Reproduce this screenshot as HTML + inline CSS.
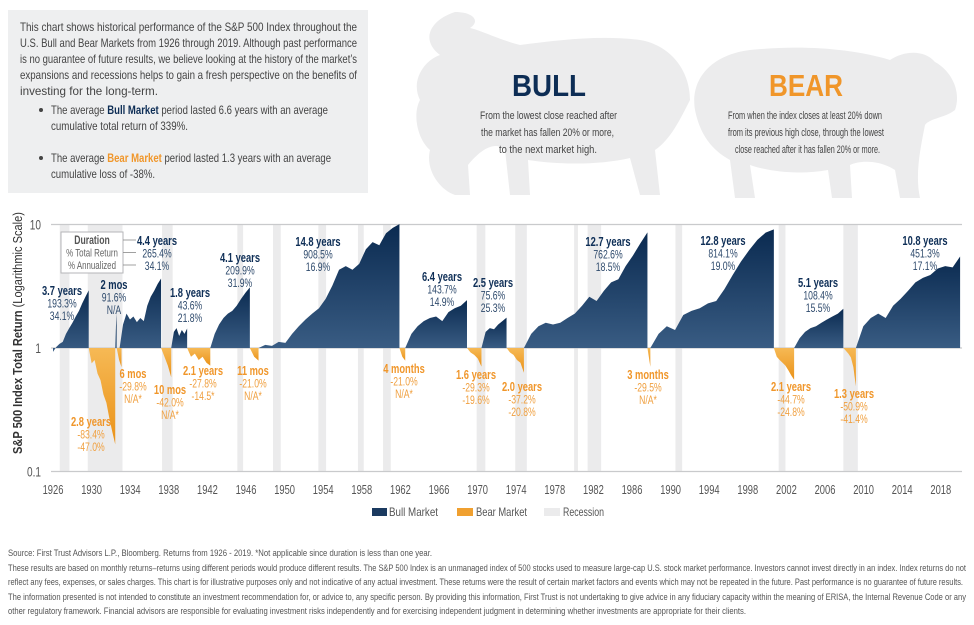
<!DOCTYPE html>
<html><head><meta charset="utf-8">
<style>
html,body{margin:0;padding:0;background:#fff;}
svg{display:block;}
text{font-family:"Liberation Sans Narrow","Liberation Sans",sans-serif;}
</style></head>
<body>
<svg id="root" width="974" height="625" viewBox="0 0 974 625" xmlns="http://www.w3.org/2000/svg">
<defs>
<linearGradient id="bullGrad" x1="0" y1="0" x2="0" y2="1"><stop offset="0" stop-color="#0a2a50"/><stop offset="1" stop-color="#395c83"/></linearGradient>
<linearGradient id="bearGrad" x1="0" y1="0" x2="0" y2="1"><stop offset="0" stop-color="#f6b955"/><stop offset="1" stop-color="#ea9218"/></linearGradient>
</defs>

<g>
<rect x="8" y="10" width="360" height="183" fill="#eeeff0"/>
<g font-size="12" fill="#444">
<text x="20" y="31" textLength="337" lengthAdjust="spacingAndGlyphs">This chart shows historical performance of the S&amp;P 500 Index throughout the</text>
<text x="20" y="47" textLength="337" lengthAdjust="spacingAndGlyphs">U.S. Bull and Bear Markets from 1926 through 2019. Although past performance</text>
<text x="20" y="63" textLength="337" lengthAdjust="spacingAndGlyphs">is no guarantee of future results, we believe looking at the history of the market’s</text>
<text x="20" y="79" textLength="337" lengthAdjust="spacingAndGlyphs">expansions and recessions helps to gain a fresh perspective on the benefits of</text>
<text x="20" y="95" textLength="138" lengthAdjust="spacingAndGlyphs">investing for the long-term.</text>
<circle cx="41" cy="110" r="2" fill="#444"/>
<text x="51" y="114" textLength="277" lengthAdjust="spacingAndGlyphs">The average <tspan font-weight="bold" fill="#0d2d55">Bull Market</tspan> period lasted 6.6 years with an average</text>
<text x="51" y="130" textLength="137" lengthAdjust="spacingAndGlyphs">cumulative total return of 339%.</text>
<circle cx="41" cy="158" r="2" fill="#444"/>
<text x="51" y="162" textLength="280" lengthAdjust="spacingAndGlyphs">The average <tspan font-weight="bold" fill="#f0962a">Bear Market</tspan> period lasted 1.3 years with an average</text>
<text x="51" y="178" textLength="104" lengthAdjust="spacingAndGlyphs">cumulative loss of -38%.</text>
</g>
</g>

<g fill="#ececed">
<path d="M455 12 C430 20 420 40 440 55 C425 60 410 80 420 100 C412 115 418 140 430 150 C425 170 440 190 455 195 L470 195 L468 165 C480 150 495 140 505 150 L510 195 L530 195 L528 160 C560 165 600 165 630 158 L640 195 L660 195 L655 150 C670 140 680 120 690 100 C690 70 670 45 640 40 C600 35 560 40 520 45 C500 40 480 30 470 28 C480 22 475 12 455 12 Z"/>
</g>
<g fill="#ececed">
<path d="M695 110 C690 80 710 55 750 50 C800 45 850 48 890 60 C905 50 925 50 935 62 C950 70 962 90 955 110 C945 118 930 118 925 125 C920 150 915 175 920 198 L900 198 L895 170 C880 160 860 160 850 165 L852 198 L832 198 L828 170 C800 175 770 172 750 165 L755 198 L735 198 L730 160 C712 150 700 135 695 110 Z"/>
</g>

<g>
<text x="512" y="96" font-size="31" font-weight="bold" fill="#0d2d55" textLength="74" lengthAdjust="spacingAndGlyphs">BULL</text>
<g font-size="11" fill="#444">
<text x="480" y="119" textLength="137" lengthAdjust="spacingAndGlyphs">From the lowest close reached after</text>
<text x="481" y="136" textLength="133" lengthAdjust="spacingAndGlyphs">the market has fallen 20% or more,</text>
<text x="499" y="153" textLength="98" lengthAdjust="spacingAndGlyphs">to the next market high.</text>
</g></g>
<g>
<text x="769" y="96" font-size="31" font-weight="bold" fill="#f0962a" textLength="74" lengthAdjust="spacingAndGlyphs">BEAR</text>
<g font-size="11" fill="#444">
<text x="728" y="119" textLength="154" lengthAdjust="spacingAndGlyphs">From when the index closes at least 20% down</text>
<text x="728" y="136" textLength="156" lengthAdjust="spacingAndGlyphs">from its previous high close, through the lowest</text>
<text x="735" y="153" textLength="145" lengthAdjust="spacingAndGlyphs">close reached after it has fallen 20% or more.</text>
</g></g>

<g id="chart"></g>
<g id="annot"></g>

<g font-size="12" fill="#555">
<g><rect x="372" y="508" width="15" height="8" fill="#1b3a60"/><text x="389" y="516" textLength="49" lengthAdjust="spacingAndGlyphs">Bull Market</text></g>
<g><rect x="457" y="508" width="16" height="8" fill="#f0a030"/><text x="476" y="516" textLength="51" lengthAdjust="spacingAndGlyphs">Bear Market</text></g>
<g><rect x="544" y="508" width="16" height="8" fill="#ebebec"/><text x="563" y="516" textLength="41" lengthAdjust="spacingAndGlyphs">Recession</text></g>
</g>

<g font-size="9" fill="#555">
<text x="8" y="556" textLength="424" lengthAdjust="spacingAndGlyphs">Source: First Trust Advisors L.P., Bloomberg. Returns from 1926 - 2019. *Not applicable since duration is less than one year.</text>
<text x="8" y="571" textLength="958" lengthAdjust="spacingAndGlyphs">These results are based on monthly returns–returns using different periods would produce different results. The S&amp;P 500 Index is an unmanaged index of 500 stocks used to measure large-cap U.S. stock market performance. Investors cannot invest directly in an index. Index returns do not</text>
<text x="8" y="585" textLength="955" lengthAdjust="spacingAndGlyphs">reflect any fees, expenses, or sales charges. This chart is for illustrative purposes only and not indicative of any actual investment. These returns were the result of certain market factors and events which may not be repeated in the future. Past performance is no guarantee of future results.</text>
<text x="8" y="600" textLength="958" lengthAdjust="spacingAndGlyphs">The information presented is not intended to constitute an investment recommendation for, or advice to, any specific person. By providing this information, First Trust is not undertaking to give advice in any fiduciary capacity within the meaning of ERISA, the Internal Revenue Code or any</text>
<text x="8" y="614" textLength="738" lengthAdjust="spacingAndGlyphs">other regulatory framework. Financial advisors are responsible for evaluating investment risks independently and for exercising independent judgment in determining whether investments are appropriate for their clients.</text>
</g>
</svg>

<script>
const yTicks = [10, 1, 0.1];
const yTickLabels = ["10", "1", "0.1"];
const xTickYears = [1926,1930,1934,1938,1942,1946,1950,1954,1958,1962,1966,1970,1974,1978,1982,1986,1990,1994,1998,2002,2006,2010,2014,2018];
const recessionStarts = [1926.7,1929.6,1937.3,1945.1,1948.8,1953.5,1957.6,1960.2,1969.9,1973.9,1980.0,1981.4,1990.5,2001.2,2007.9];
const recessionEnds   = [1927.7,1933.2,1938.4,1945.7,1949.6,1954.3,1958.2,1961.0,1970.8,1975.1,1980.4,1982.8,1991.2,2001.9,2009.4];
const bullStarts = [1926.0,1932.45,1932.9,1938.25,1942.3,1947.3,1962.5,1970.4,1974.8,1987.9,2002.8,2009.2];
const bullEnds   = [1929.7,1932.6,1937.2,1939.9,1946.4,1961.9,1968.9,1973.0,1987.6,2000.7,2007.9,2020.0];
const bullValues = [
 [0.93,1.02,1.08,1.12,1.3,1.45,1.6,1.8,2.0,2.3,2.6,2.93],
 [1,1.5,1.92],
 [1,1.55,1.9,1.7,1.8,1.62,1.75,1.65,2.2,2.6,2.9,3.3,3.65],
 [1,1.35,1.45,1.25,1.4,1.3,1.44],
 [1,1.3,1.55,1.75,1.9,2.0,2.2,2.5,2.8,3.1],
 [1,1.06,1.04,1.12,1.1,1.3,1.5,1.7,1.9,2.1,2.5,3.2,4.3,4.6,4.3,4.8,6.3,7.2,6.8,8.5,9.4,10.08],
 [1,1.3,1.5,1.65,1.75,1.8,1.65,1.95,2.1,2.2,2.44],
 [1,1.35,1.45,1.42,1.55,1.65,1.76],
 [1,1.3,1.5,1.6,1.55,1.6,1.75,1.9,2.2,2.6,2.4,2.9,3.4,3.6,4.6,5.6,7.0,8.63],
 [1,1.3,1.5,1.4,1.85,2.0,2.1,2.3,2.4,3.0,3.9,5.0,6.2,7.5,8.6,9.14],
 [1,1.2,1.35,1.45,1.5,1.6,1.7,1.8,1.9,2.08],
 [1,1.5,1.75,1.9,1.75,2.2,2.5,2.9,3.4,3.7,3.9,4.4,4.6,4.5,5.51]
];
const bearStarts = [1929.7,1932.6,1937.2,1939.9,1946.4,1961.9,1968.9,1973.0,1987.6,2000.7,2007.9];
const bearEnds   = [1932.45,1933.1,1938.25,1942.3,1947.3,1962.5,1970.4,1974.8,1987.9,2002.8,2009.2];
const bearValues = [
 [1,0.75,0.8,0.62,0.55,0.42,0.36,0.27,0.21,0.166],
 [1,0.8,0.70],
 [1,0.85,0.72,0.58],
 [1,0.85,0.9,0.8,0.85,0.76,0.72],
 [1,0.85,0.79],
 [1,0.85,0.79],
 [1,0.92,0.88,0.82,0.707],
 [1,0.92,0.88,0.8,0.76,0.63],
 [1,0.705],
 [1,0.85,0.8,0.76,0.72,0.66,0.6,0.553],
 [1,0.95,0.9,0.84,0.7,0.49]
];
const bullLabels = [["3.7 years","193.3%","34.1%"],["2 mos","91.6%","N/A"],["4.4 years","265.4%","34.1%"],["1.8 years","43.6%","21.8%"],["4.1 years","209.9%","31.9%"],["14.8 years","908.5%","16.9%"],["6.4 years","143.7%","14.9%"],["2.5 years","75.6%","25.3%"],["12.7 years","762.6%","18.5%"],["12.8 years","814.1%","19.0%"],["5.1 years","108.4%","15.5%"],["10.8 years","451.3%","17.1%"]];
const bearLabels = [["2.8 years","-83.4%","-47.0%"],["6 mos","-29.8%","N/A*"],["10 mos","-42.0%","N/A*"],["2.1 years","-27.8%","-14.5*"],["11 mos","-21.0%","N/A*"],["4 months","-21.0%","N/A*"],["1.6 years","-29.3%","-19.6%"],["2.0 years","-37.2%","-20.8%"],["3 months","-29.5%","N/A*"],["2.1 years","-44.7%","-24.8%"],["1.3 years","-50.9%","-41.4%"]];

const NS = "http://www.w3.org/2000/svg";
const X0 = 53, PXY = 9.65, Y1 = 348, PXD = 123.5, SX = 0.72;
function xs(year){ return X0 + (year - 1926) * PXY; }
function ys(v){ return Y1 - Math.log10(v) * PXD; }
function mk(tag, attrs, parent){ const e = document.createElementNS(NS, tag); for (const k in attrs) e.setAttribute(k, attrs[k]); parent.appendChild(e); return e; }
function ntext(x, y, str, size, weight, fill, anchor, parent){
  const t = mk('text', {x: 0, y: 0, transform: 'translate(' + x + ',' + y + ') scale(' + SX + ',1)', 'font-size': size, 'font-weight': weight, fill: fill, 'text-anchor': anchor}, parent);
  t.textContent = str;
  return t;
}
const chart = document.getElementById('chart');
const annot = document.getElementById('annot');

for (let i = 0; i < recessionStarts.length; i++) {
  const r = mk('rect', {x: xs(recessionStarts[i]), y: ys(10), width: xs(recessionEnds[i]) - xs(recessionStarts[i]), height: ys(0.1) - ys(10), fill: '#ebebec'}, chart);
  
  
}
for (let i = 0; i < yTicks.length; i++) {
  const l = mk('line', {x1: xs(1926) - 2, x2: xs(2020.2), y1: ys(yTicks[i]), y2: ys(yTicks[i]), stroke: '#c9cacc', 'stroke-width': 1.3}, chart);
  
  
  const t = ntext(41, ys(yTicks[i]) + 5, yTickLabels[i], 14, 'normal', '#555', 'end', chart);
  
  
}
for (let i = 0; i < xTickYears.length; i++) {
  const t = ntext(xs(xTickYears[i]), 494, String(xTickYears[i]), 13, 'normal', '#555', 'middle', chart);
  
  
}
function areaPath(s, e, vals){
  let d = 'M' + xs(s) + ' ' + ys(1);
  const n = vals.length;
  for (let i = 0; i < n; i++) {
    const yr = s + (n > 1 ? i * (e - s) / (n - 1) : 0);
    d += ' L' + xs(yr).toFixed(2) + ' ' + ys(vals[i]).toFixed(2);
  }
  d += ' L' + xs(e).toFixed(2) + ' ' + ys(1) + ' Z';
  return d;
}
for (let i = 0; i < bullStarts.length; i++) {
  const p = mk('path', {d: areaPath(bullStarts[i], bullEnds[i], bullValues[i]), fill: 'url(#bullGrad)'}, chart);
  
  
}
for (let i = 0; i < bearStarts.length; i++) {
  const p = mk('path', {d: areaPath(bearStarts[i], bearEnds[i], bearValues[i]), fill: 'url(#bearGrad)'}, chart);
  
  
}
const yt = mk('text', {transform: 'translate(22,333) rotate(-90)', 'text-anchor': 'middle', 'font-size': 13, fill: '#333', textLength: 242, lengthAdjust: 'spacingAndGlyphs'}, chart);
yt.innerHTML = '<tspan font-weight="bold">S&amp;P 500 Index Total Return</tspan> (Logarithmic Scale)';



const bullLabelPos = [[62,291],[114,285],[157,241],[190,293],[240,258],[318,242],[442,277],[493,283],[608,242],[723,241],[818,283],[925,241]];
const bearLabelPos = [[91,422],[133,374],[170,390],[203,371],[253,371],[404,369],[476,375],[522,387],[648,375],[791,387],[854,394]];
function label(pos, lines, c1, c2, name){
  const g = mk('g', {}, annot);
  
  
  for (let j = 0; j < 3; j++) {
    ntext(pos[0], pos[1] + 4 + j * 12.5, lines[j], j === 0 ? 13 : 12, j === 0 ? 'bold' : 'normal', j === 0 ? c1 : c2, 'middle', g);
  }
}
for (let i = 0; i < bullLabels.length; i++) label(bullLabelPos[i], bullLabels[i], '#0f2f57', '#2e4a6c', 'bull-label');
for (let i = 0; i < bearLabels.length; i++) label(bearLabelPos[i], bearLabels[i], '#f0962a', '#f0a040', 'bear-label');

const kb = mk('g', {}, annot);


mk('rect', {x: 61, y: 232, width: 62, height: 41, fill: '#fff', stroke: '#b5b6b8', 'stroke-width': 1}, kb);
const keyText = ['Duration', '% Total Return', '% Annualized'];
for (let j = 0; j < 3; j++) {
  ntext(92, 244 + j * 12.5, keyText[j], j === 0 ? 12 : 11, j === 0 ? 'bold' : 'normal', j === 0 ? '#555' : '#666', 'middle', kb);
  mk('line', {x1: 123, x2: 136, y1: 240 + j * 12.5, y2: 240 + j * 12.5, stroke: '#888', 'stroke-width': 0.8}, kb);
}
</script>
</body></html>
